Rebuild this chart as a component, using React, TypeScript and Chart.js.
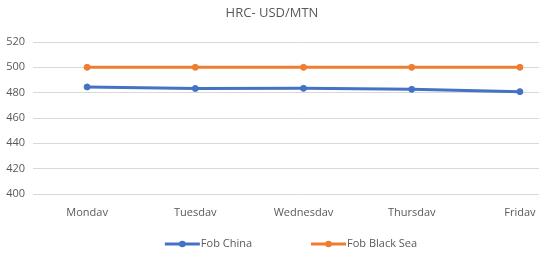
import React, { useEffect, useRef } from "react";
import { Chart, registerables } from "chart.js";

Chart.register(...registerables);

const categories = ["Monday", "Tuesday", "Wednesday", "Thursday", "Friday"];
const fobChina = [484.5, 483.3, 483.4, 482.6, 480.8];
const fobBlackSea = [500, 500, 500, 500, 500];
const seriesNames = ["Fob China", "Fob Black Sea"];
const titleText = "HRC- USD/MTN";
const yMin = 400;
const yMax = 520;
const yStep = 20;

const BLUE = "#4472C4";
const ORANGE = "#ED7D31";
const TEXT = "#595959";
const GRID = "#D9D9D9";
const FONT = "'Open Sans', sans-serif";

const titlePlugin = {
  id: "customTitle",
  afterDraw(chart: any) {
    const ctx = chart.ctx;
    ctx.save();
    ctx.font = `13px ${FONT}`;
    ctx.fillStyle = TEXT;
    ctx.textAlign = "center";
    ctx.textBaseline = "middle";
    ctx.fillText(titleText, 272, 13);
    ctx.restore();
  },
};

const legendPlugin = {
  id: "customLegend",
  afterDraw(chart: any) {
    const ctx = chart.ctx;
    const ds = chart.data.datasets;
    ctx.save();
    ctx.font = `11px ${FONT}`;
    const lineW = 35;
    const gap = 1;
    const itemGap = 59;
    const widths = ds.map((d: any) => lineW + gap + ctx.measureText(d.label).width);
    const total = widths.reduce((a: number, b: number) => a + b, 0) + itemGap * (ds.length - 1);
    let x = 291 - total / 2;
    const y = 244;
    ds.forEach((d: any, i: number) => {
      ctx.strokeStyle = d.borderColor;
      ctx.lineWidth = 3;
      ctx.beginPath();
      ctx.moveTo(x, y);
      ctx.lineTo(x + lineW, y);
      ctx.stroke();
      ctx.fillStyle = d.borderColor;
      ctx.beginPath();
      ctx.arc(x + lineW / 2, y, 3.3, 0, Math.PI * 2);
      ctx.fill();
      ctx.fillStyle = TEXT;
      ctx.textAlign = "left";
      ctx.textBaseline = "middle";
      ctx.fillText(d.label, x + lineW + gap, y);
      x += widths[i] + itemGap;
    });
    ctx.restore();
  },
};

export default function App() {
  const ref = useRef<HTMLCanvasElement | null>(null);

  useEffect(() => {
    if (!ref.current) return;
    const chart = new Chart(ref.current, {
      type: "line",
      data: {
        labels: categories,
        datasets: [
          {
            label: seriesNames[0],
            data: fobChina,
            borderColor: BLUE,
            backgroundColor: BLUE,
            pointBackgroundColor: BLUE,
            pointBorderColor: BLUE,
            borderWidth: 3,
            pointRadius: 3,
            pointBorderWidth: 1,
            tension: 0,
          },
          {
            label: seriesNames[1],
            data: fobBlackSea,
            borderColor: ORANGE,
            backgroundColor: ORANGE,
            pointBackgroundColor: ORANGE,
            pointBorderColor: ORANGE,
            borderWidth: 3,
            pointRadius: 3,
            pointBorderWidth: 1,
            tension: 0,
          },
        ],
      },
      options: {
        responsive: false,
        animation: false,
        layout: { padding: { top: 42, right: 2, bottom: 37, left: 0 } },
        plugins: {
          legend: { display: false },
          title: { display: false },
          tooltip: { enabled: false },
        },
        scales: {
          x: {
            type: "category",
            offset: true,
            grid: { display: false, drawTicks: false },
            border: { display: false },
            ticks: { color: TEXT, font: { family: FONT, size: 11 }, padding: 12, maxRotation: 0 },
            afterFit(scale: any) {
              scale.height = 22;
            },
          },
          y: {
            min: yMin,
            max: yMax,
            grid: { color: GRID, drawTicks: false, lineWidth: 1 },
            border: { display: false },
            ticks: { stepSize: yStep, color: TEXT, font: { family: FONT, size: 11 }, padding: 8 },
            afterFit(scale: any) {
              scale.width = 33;
            },
          },
        },
      },
      plugins: [titlePlugin, legendPlugin],
    });
    return () => chart.destroy();
  }, []);

  return (
    <div
      style={{
        position: "absolute",
        left: 0,
        top: 0,
        width: 539,
        height: 253,
        overflow: "hidden",
        background: "#fff",
      }}
    >
      <canvas ref={ref} width={579} height={253} style={{ display: "block", width: 579, height: 253 }} />
    </div>
  );
}
